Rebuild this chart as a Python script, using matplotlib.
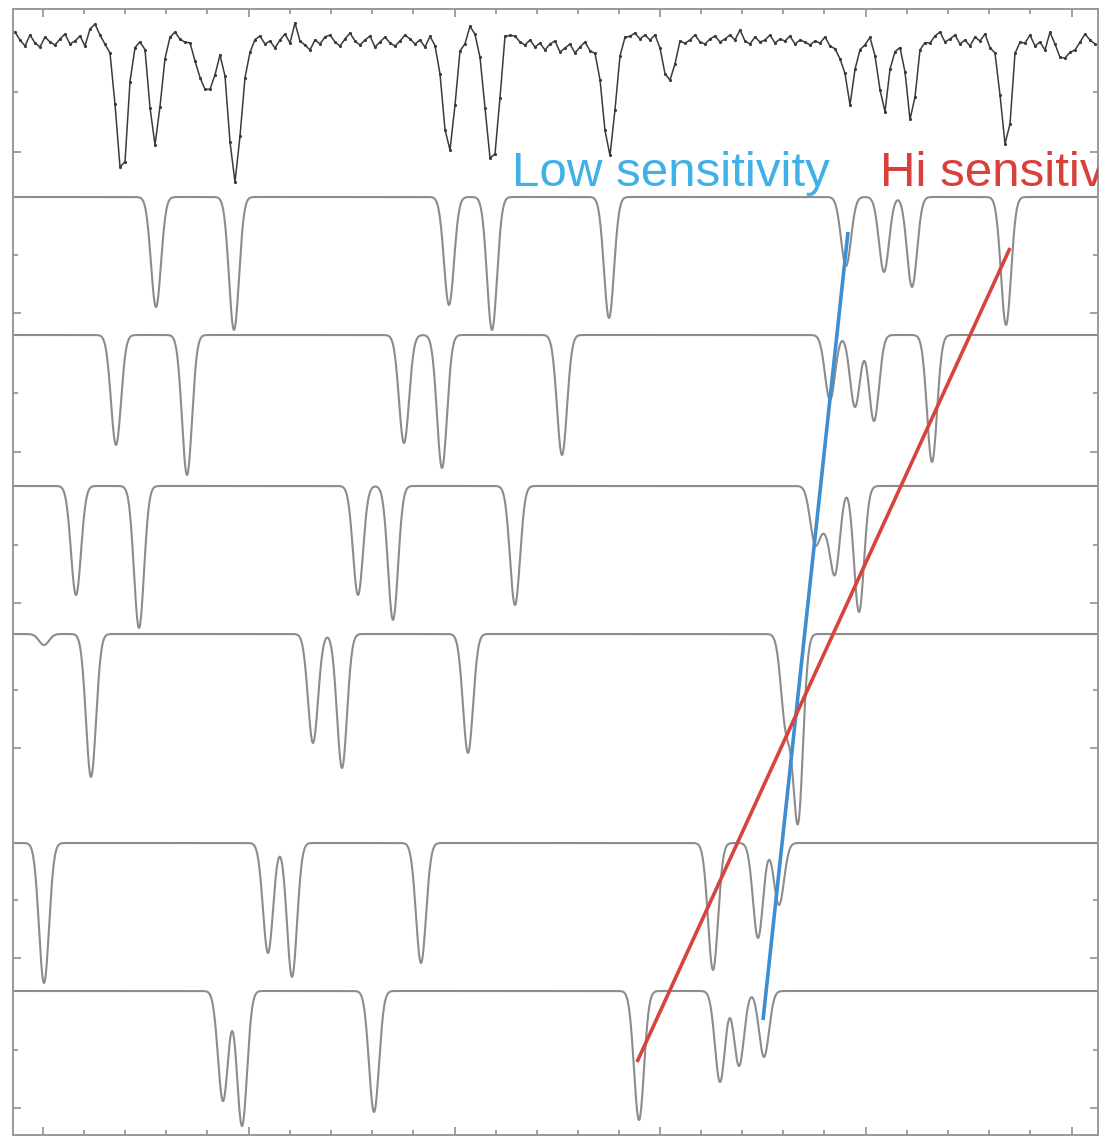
import numpy as np
import matplotlib.pyplot as plt

# x: wavelength in plot units, y: flux offset in plot units (downwards)
x_lo, x_hi = 13, 1098
y_top, y_bot = 9, 1135

# continuum level of each spectrum (first one = observed spectrum)
obs_level = 38
model_levels = [197, 335, 486, 634, 843, 991]

# observed spectrum: absorption lines
obs_centres = [122, 155, 207, 235, 449, 492, 609, 669, 850, 884, 911, 1006, 1065]
obs_depths = [140, 108, 55, 143, 118, 128, 113, 45, 65, 70, 80, 113, 22]
obs_sigmas = [5.5, 5, 8, 6, 5.5, 6, 6, 5, 5, 5, 5, 5, 5]

# observed spectrum: continuum jitter, one value every 5 units from x=15
obs_noise = [
    -6, 2, 8, -3, 5, 9, -1, 4, 7, 1, -4, 6, 3, -2, 8, -9, -14, -3, 5, 2,
    4, -2, 3, -5, 1, 2, -3, 4, -1, 3, 6, -2, -6, 1, 3, -1, 5, 2, -2, 0,
    3, -4, -2, 2, 1, -3, 4, 8, 1, -2, 6, 3, 10, 2, -4, 5, -15, 3, 7, 12,
    2, 6, -1, -3, 4, 8, 1, -5, 3, 7, 2, -2, 9, 4, -1, 5, 8, 3, -3, 1,
    6, 2, 9, -2, 3, 5, 1, -4, 2, -3, 4, -12, -6, 2, 5, -1, 3, 7, -14, -4,
    -2, 4, 7, 2, 9, 5, 12, 6, 3, 14, 10, 6, 15, 9, 4, 12, 8, 5, 2, 6,
    3, -3, -4, -2, -5, 1, -3, 2, -4, 1, 3, -2, 4, -1, 5, 2, -3, 4, 6, 1,
    -2, 4, 1, -3, 2, -8, 3, 6, -1, 4, 2, -3, 5, 1, 3, -2, 6, 2, 4, 7,
    3, 5, -1, 8, 10, 12, -4, 2, -8, 3, 6, -2, 4, 1, 5, -3, 7, 2, -5, 3,
    1, -4, 3, 5, -2, -6, 4, 1, -3, 6, 2, 8, -1, 3, -4, 9, 5, 2, -5, 4,
    -7, 2, 5, -3, 8, 4, 12, -6, 3, 6, -2, 1, 9, 4, -4, 2, 6,
]

# model spectra (shifted): line centres and depths
model_centres = [
    [156, 234, 449, 492, 609, 846, 884, 912, 1006],
    [116, 187, 404, 442, 562, 830, 855, 874, 932],
    [76, 139, 358, 393, 515, 815, 825, 835, 859],
    [44, 91, 313, 342, 468, 786, 798],
    [44, 268, 292, 421, 713, 758, 779],
    [223, 242, 374, 639, 720, 739, 764],
]
model_depths = [
    [110, 133, 108, 133, 121, 69, 75, 90, 128],
    [110, 140, 108, 133, 120, 65, 72, 86, 127],
    [109, 142, 109, 134, 119, 55, 30, 85, 126],
    [11, 143, 109, 134, 119, 90, 185],
    [140, 110, 134, 120, 127, 95, 62],
    [110, 135, 121, 129, 91, 75, 66],
]
line_sigma = 5.0

# sensitivity trend lines
low_x, low_y = [848, 763], [232, 1020]
hi_x, hi_y = [1010, 637], [248, 1062]

major_x = [43, 249, 455, 660, 866, 1072]
minor_x = [84, 125, 166, 207, 290, 331, 372, 413, 496, 537, 578, 619,
           701, 742, 783, 824, 907, 948, 989, 1030]
major_y = [152, 313, 452, 603, 748, 958, 1108]
minor_y = [92, 255, 393, 545, 690, 900, 1050]


def profile(x, centres, depths, sigmas):
    f = np.zeros_like(x, dtype=float)
    for c, d, s in zip(centres, depths, sigmas):
        f += d * np.exp(-0.5 * ((x - c) / s) ** 2)
    return f


fig = plt.figure(figsize=(11.01, 11.39), dpi=100)
ax = fig.add_axes([13 / 1101, 1 - 1135 / 1139, (1098 - 13) / 1101, (1135 - 9) / 1139])

# observed spectrum
xo = 15 + 5 * np.arange(len(obs_noise))
yo = obs_level + np.array(obs_noise) + profile(xo, obs_centres, obs_depths, obs_sigmas)
ax.plot(xo, yo, color='#3a3a3a', lw=1.1, marker='.', ms=2.5)

# model spectra
xm = np.linspace(x_lo, x_hi, 3000)
for level, cs, ds in zip(model_levels, model_centres, model_depths):
    ym = level + profile(xm, cs, ds, [line_sigma] * len(cs))
    ax.plot(xm, ym, color='#8c8c8c', lw=1.5)

ax.plot(low_x, low_y, color='#3d8fd1', lw=2.6, solid_capstyle='butt')
ax.plot(hi_x, hi_y, color='#d6453d', lw=2.6, solid_capstyle='butt')

ax.text(512, 186, 'Low sensitivity', color='#3fb0e8', fontsize=35.5,
        family='Liberation Sans', va='baseline', ha='left', clip_on=True)
ax.text(880, 186, 'Hi sensitivity', color='#d8403a', fontsize=35.5,
        family='Liberation Sans', va='baseline', ha='left', clip_on=True)

ax.set_xlim(x_lo, x_hi)
ax.set_ylim(y_bot, y_top)
ax.set_xticks(major_x)
ax.set_xticks(minor_x, minor=True)
ax.set_yticks(major_y)
ax.set_yticks(minor_y, minor=True)
ax.set_xticklabels([])
ax.set_yticklabels([])
ax.tick_params(which='both', direction='in', top=True, right=True,
               color='#909090', width=1.2)
ax.tick_params(which='major', length=6)
ax.tick_params(which='minor', length=3.5)
for s in ax.spines.values():
    s.set_color('#999999')
    s.set_linewidth(1.4)

fig.savefig('out.png', dpi=100)
